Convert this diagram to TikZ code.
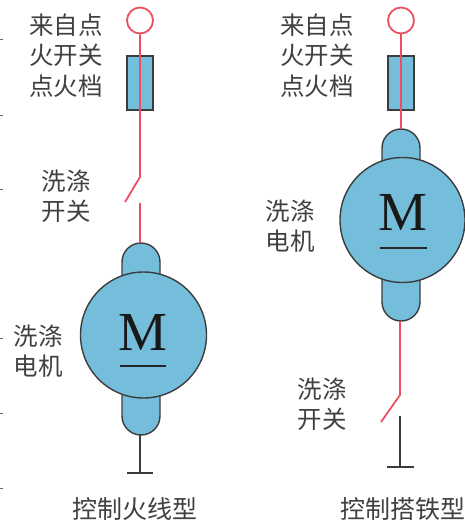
\documentclass[tikz,border=0pt]{standalone}
\usepackage{fontspec}
\newfontfamily\cjk{Noto Sans CJK SC}[Scale=1]
\setmainfont{Liberation Serif}
\definecolor{mblue}{HTML}{74BEDC}
\definecolor{mred}{HTML}{EC5060}
\definecolor{mdark}{HTML}{3C3C3C}
\tikzset{
  lab/.style={font=\cjk\fontsize{24.5}{30.5}\selectfont, text=black!75, align=center, inner sep=0pt},
  captext/.style={font=\cjk\fontsize{25}{28}\selectfont, text=black!75, inner sep=0pt},
  terminal/.style={circle, draw=mred, line width=1.8pt, minimum size=26pt, inner sep=0pt, fill=white},
  fusebox/.style={rectangle, draw=mdark, line width=1.4pt, fill=mblue, minimum width=26pt, minimum height=54pt, inner sep=0pt},
  motorbody/.style={circle, draw=mdark, line width=1.4pt, fill=mblue, inner sep=0pt},
  brush/.style={draw=mdark, line width=1.4pt, fill=mblue},
  hot/.style={draw=mred, line width=1.8pt},
  gnd/.style={draw=mdark, line width=1.5pt},
  edgetick/.style={draw=black!60, line width=0.9pt},
  mlabel/.style={font=\fontsize{55}{55}\selectfont, text=black!90, inner sep=0pt, anchor=base},
  mbar/.style={draw=black!85, line width=1.2pt}
}
\begin{document}
\begin{tikzpicture}[x=1pt,y=-1pt]
\useasboundingbox (0,0) rectangle (465,524);
% edge ticks
\foreach \yy in {39.5,115,189,338,413,488} \draw[edgetick] (0,\yy) -- (3,\yy);

% ---- left: control live wire
\node[fusebox] (fuseL) at (140,83) {};
\node[terminal] (termL) at (140,20.5) {};
\coordinate (hingeL) at (140,177);
\coordinate (bladeL) at (125,202);
\coordinate (contactL) at (140,203);
\coordinate (topL) at (141,243);
\coordinate (botL) at (141,435);
\coordinate (gndL) at (140,473);
\coordinate (gndLa) at (127,473);
\coordinate (gndLb) at (153,473);
\draw[brush] (122,285) -- (122,262) arc[start angle=180,end angle=360,radius=19] -- (160,285) -- cycle;
\draw[brush] (122,385) -- (122,416) arc[start angle=180,end angle=0,radius=19] -- (160,385) -- cycle;
\node[motorbody, minimum size=126pt] (motorL) at (143.5,335) {};
\draw[hot] (termL.south) -- (hingeL) -- (bladeL);
\draw[hot] (contactL) -- (contactL |- topL);
\draw[gnd] (gndL |- botL) -- (gndL);
\draw[gnd] (gndLa) -- (gndLb);
\node[mlabel] (mL) at (143,350) {M};
\coordinate (barLa) at (120,366);
\coordinate (barLb) at (166,366);
\draw[mbar] (barLa) -- (barLb);
\node[lab] (srcL) at (66,55.5) {来自点\\火开关\\点火档};
\node[lab] (swL) at (66,196) {洗涤\\开关};
\node[lab] (mtL) at (38,351) {洗涤\\电机};
\node[captext] (capL) at (135,509) {控制火线型};

% ---- right: control ground
\node[fusebox] (fuseR) at (401,83) {};
\node[terminal] (termR) at (401,20.5) {};
\coordinate (topR) at (401,129);
\coordinate (botR) at (400,321);
\coordinate (hingeR) at (400,395);
\coordinate (bladeR) at (381,422);
\coordinate (contactR) at (400,416);
\coordinate (gndR) at (400,467);
\coordinate (gndRa) at (387,467);
\coordinate (gndRb) at (414,467);
\draw[brush] (382,170) -- (382,148) arc[start angle=180,end angle=360,radius=19] -- (420,170) -- cycle;
\draw[brush] (382,270) -- (382,302) arc[start angle=180,end angle=0,radius=19] -- (420,270) -- cycle;
\node[motorbody, minimum size=125pt] (motorR) at (402.5,220) {};
\draw[hot] (termR.south) -- (topR);
\draw[hot] (botR) -- (hingeR) -- (bladeR);
\draw[gnd] (contactR) -- (gndR);
\draw[gnd] (gndRa) -- (gndRb);
\node[mlabel] (mR) at (403,230) {M};
\coordinate (barRa) at (380,248);
\coordinate (barRb) at (427,248);
\draw[mbar] (barRa) -- (barRb);
\node[lab] (srcR) at (317,55.5) {来自点\\火开关\\点火档};
\node[lab] (mtR) at (290,226) {洗涤\\电机};
\node[lab] (swR) at (322,404) {洗涤\\开关};
\node[captext] (capR) at (403,509) {控制搭铁型};
\end{tikzpicture}
\end{document}
